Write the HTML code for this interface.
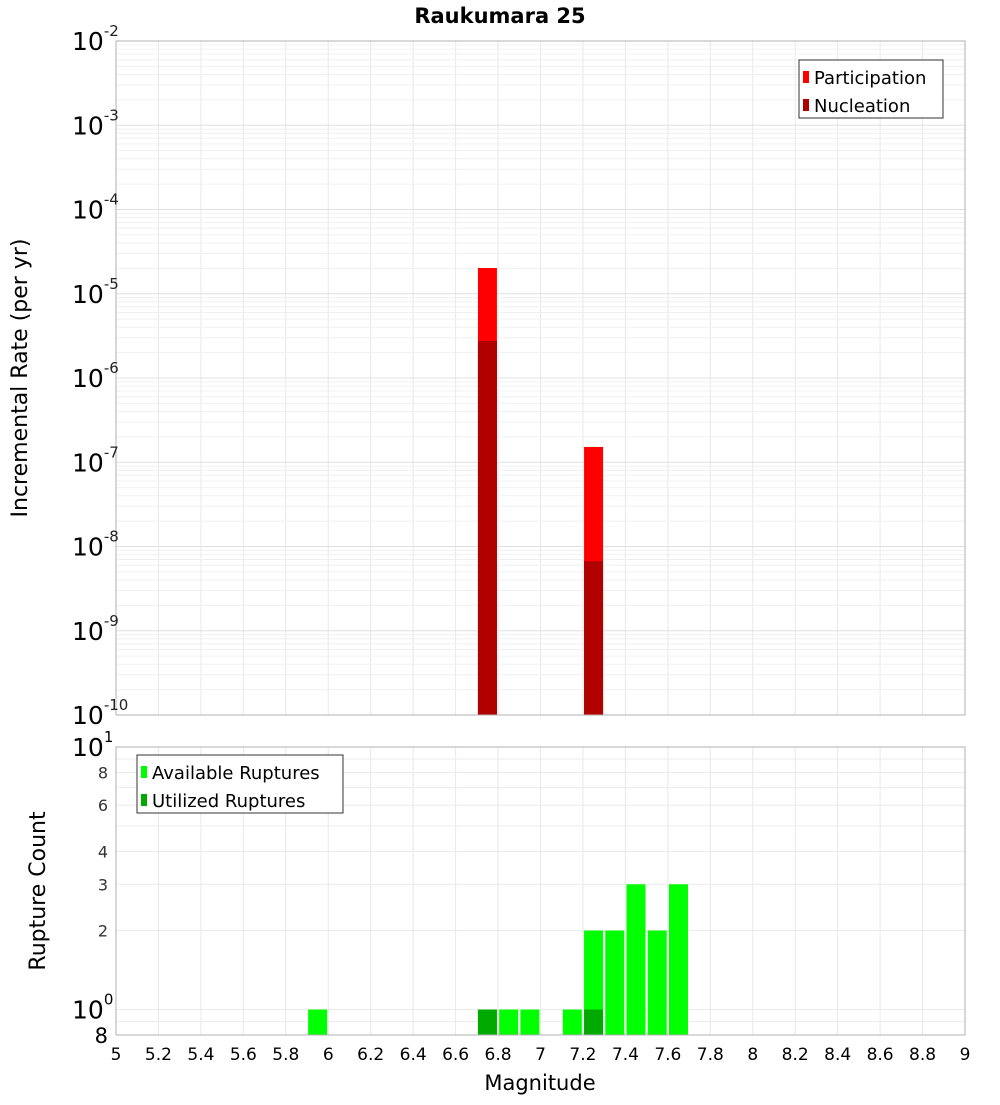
<!DOCTYPE html>
<html><head><meta charset="utf-8"><style>
body{margin:0;background:#fff}
svg text{font-family:"DejaVu Sans","Liberation Sans",sans-serif}
</style></head><body>
<svg id="c" width="1000" height="1100" xmlns="http://www.w3.org/2000/svg"></svg>
<script>
const bins=[5.95,6.75,6.85,6.95,7.15,7.25,7.35,7.45,7.55,7.65];
const participation=[0,2.02e-5,0,0,0,1.52e-7,0,0,0,0];
const nucleation=[0,2.75e-6,0,0,0,6.7e-9,0,0,0,0];
const available=[1,1,1,1,1,2,2,3,2,3];
const utilized=[0,1,0,0,0,1,0,0,0,0];
const xTicks=[5,5.2,5.4,5.6,5.8,6,6.2,6.4,6.6,6.8,7,7.2,7.4,7.6,7.8,8,8.2,8.4,8.6,8.8,9];
const topExps=[-2,-3,-4,-5,-6,-7,-8,-9,-10];
const botTicks=[8,6,4,3,2];

const svg=document.getElementById('c');
const NS='http://www.w3.org/2000/svg';
function mk(t,a,txt,p){const e=document.createElementNS(NS,t);for(const k in a)e.setAttribute(k,a[k]);if(txt!=null)e.textContent=txt;(p||svg).appendChild(e);return e;}
const X0=116,X1=965;
const xs=m=>X0+(m-5)/4*(X1-X0);
const T0=41,T1=715;
const yt=v=>T0+(-2-Math.log10(v))/8*(T1-T0);
const B0=747,B1=1035;
const yb=v=>B1-(Math.log10(v)-Math.log10(0.8))/(1-Math.log10(0.8))*(B1-B0);

// grids
const g=mk('g',{});
xTicks.forEach(t=>{mk('line',{x1:xs(t),x2:xs(t),y1:T0,y2:T1,stroke:'#e8e8e8'},null,g);mk('line',{x1:xs(t),x2:xs(t),y1:B0,y2:B1,stroke:'#e8e8e8'},null,g);});
for(let e=-10;e<-2;e++)for(let k=1;k<10;k++){const y=yt(k*Math.pow(10,e));mk('line',{x1:X0,x2:X1,y1:y,y2:y,stroke:k==1?'#e0e0e0':'#f0f0f0'},null,g);}
[0.8,0.9,1,2,3,4,5,6,7,8,9,10].forEach(v=>{const y=yb(v);mk('line',{x1:X0,x2:X1,y1:y,y2:y,stroke:'#ececec'},null,g);});

// bars
const bw=19;
bins.forEach((b,i)=>{
 if(participation[i]>0){const r=mk('rect',{x:xs(b)-bw/2,y:yt(participation[i]),width:bw,height:T1-yt(participation[i]),fill:'#ff0000'});}
 if(nucleation[i]>0){const r=mk('rect',{x:xs(b)-bw/2,y:yt(nucleation[i]),width:bw,height:T1-yt(nucleation[i]),fill:'#b00000'});}
 if(available[i]>0){const r=mk('rect',{x:xs(b)-bw/2,y:yb(available[i]),width:bw,height:B1-yb(available[i]),fill:'#00ff00'});}
 if(utilized[i]>0){const r=mk('rect',{x:xs(b)-bw/2,y:yb(utilized[i]),width:bw,height:B1-yb(utilized[i]),fill:'#00aa00'});}
});

// frames
mk('rect',{x:X0,y:T0,width:X1-X0,height:T1-T0,fill:'none',stroke:'#b0b0b0'});
mk('rect',{x:X0,y:B0,width:X1-X0,height:B1-B0,fill:'none',stroke:'#b0b0b0'});

// title
mk('text',{x:500,y:23,'text-anchor':'middle','font-size':21,'font-weight':'bold'},'Raukumara 25');

// top y ticks
topExps.forEach(e=>{const y=yt(Math.pow(10,e));const t=mk('text',{x:72,y:y+9,'font-size':25,fill:'#000'});
 mk('tspan',{},'10',t);mk('tspan',{dy:-14,'font-size':15,fill:'#222'},String(e),t);});
// bottom y ticks
const t1=mk('text',{x:72,y:B0+9,'font-size':25});mk('tspan',{},'10',t1);mk('tspan',{dy:-14,'font-size':15},'1',t1);
const t0=mk('text',{x:72,y:yb(1)+9,'font-size':25});mk('tspan',{},'10',t0);mk('tspan',{dy:-14,'font-size':15},'0',t0);
botTicks.forEach(v=>{mk('text',{x:108,y:yb(v)+6,'font-size':16,'text-anchor':'end',fill:'#333'},String(v));});
mk('text',{x:108,y:B1+8,'font-size':21,'text-anchor':'end'},'8');

// x ticks
xTicks.forEach(t=>{mk('text',{x:xs(t),y:1060,'font-size':17,'text-anchor':'middle'},String(Math.round(t*10)/10));});
mk('text',{x:540,y:1090,'font-size':21,'text-anchor':'middle'},'Magnitude');
mk('text',{x:27,y:378,'font-size':22,'text-anchor':'middle',transform:'rotate(-90 27 378)'},'Incremental Rate (per yr)');
mk('text',{x:45,y:891,'font-size':22,'text-anchor':'middle',transform:'rotate(-90 45 891)'},'Rupture Count');

// legends
function legend(x,y,w,items,name){const lg=mk('g',{});
 mk('rect',{x:x,y:y,width:w,height:58,fill:'#fff',stroke:'#333'},null,lg);
 items.forEach((it,i)=>{mk('rect',{x:x+4,y:y+11+i*28,width:6,height:12,fill:it[1]},null,lg);mk('text',{x:x+15,y:y+24+i*28,'font-size':18},it[0],lg);});}
legend(799,60,144,[['Participation','#ff0000'],['Nucleation','#b00000']],'top-legend');
legend(137,755,206,[['Available Ruptures','#00ff00'],['Utilized Ruptures','#00aa00']],'bottom-legend');
</script>
</body></html>
